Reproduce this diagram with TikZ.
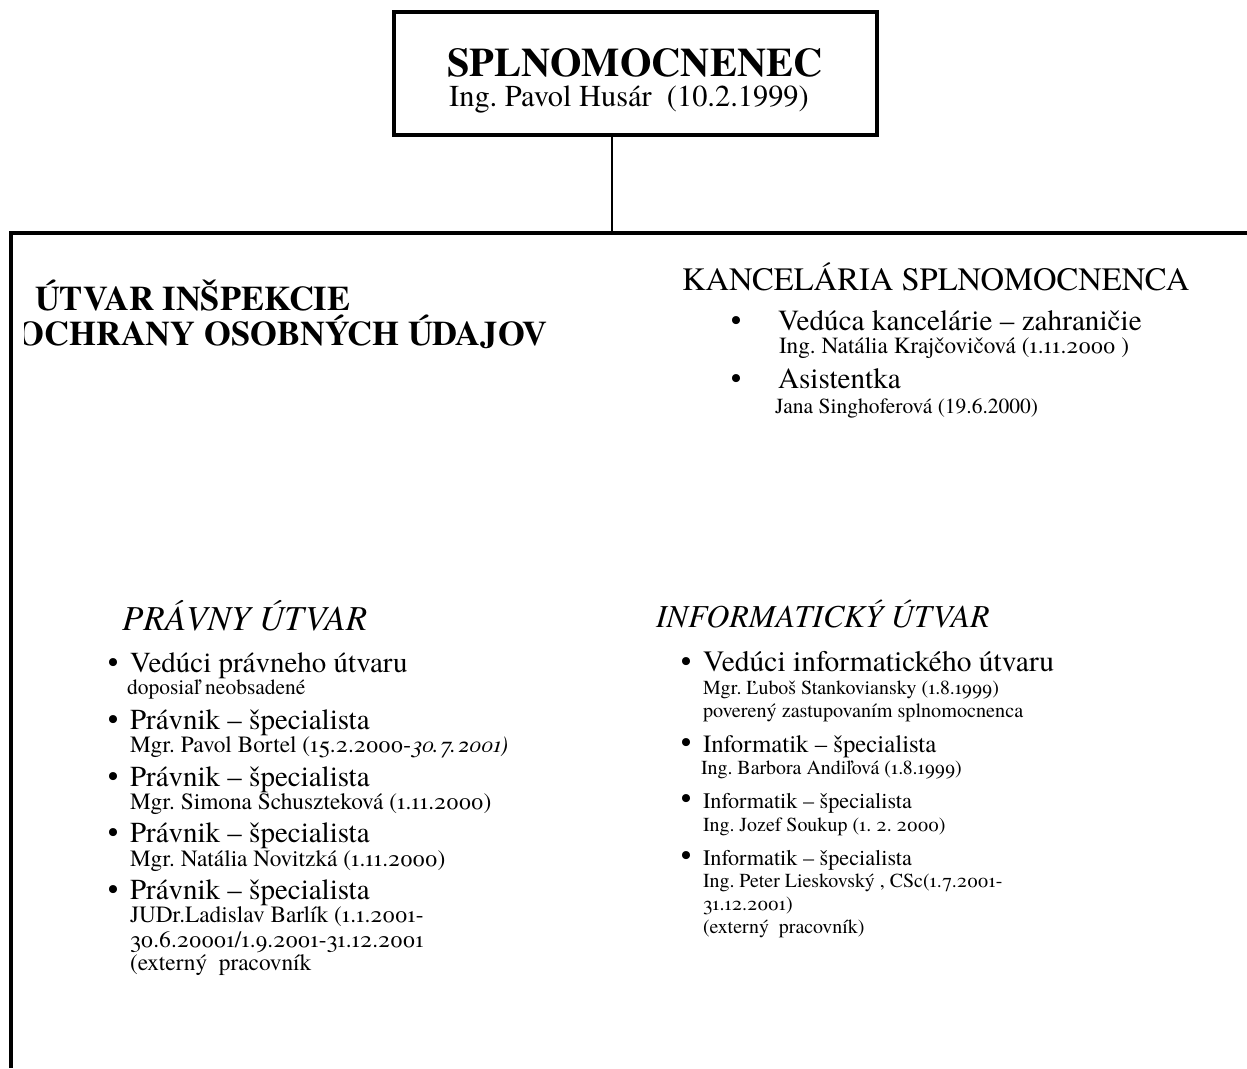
\documentclass[tikz,border=0pt]{standalone}
\usepackage{fontspec}
\setmainfont{texgyretermes}[Extension=.otf, UprightFont=*-regular, BoldFont=*-bold, ItalicFont=*-italic, BoldItalicFont=*-bolditalic]
\newfontfamily\geo{texgyretermes}[Extension=.otf, UprightFont=*-regular, BoldFont=*-bold, ItalicFont=*-italic, BoldItalicFont=*-bolditalic, Numbers=OldStyle]
\newcommand\fsz[1]{\fontsize{#1}{#1}\selectfont}
\frenchspacing
\begin{document}
\begin{tikzpicture}[x=1pt,y=-1pt,
  txt/.style={anchor=base west, inner sep=0pt, outer sep=0pt},
  ctxt/.style={anchor=base, inner sep=0pt, outer sep=0pt},
  frame/.style={line width=4pt},
  box/.style={draw, line width=4pt, inner sep=0pt, minimum width=483pt, minimum height=123pt},
  bul/.style={anchor=base, inner sep=0pt, font=\fsz{30}},
  hL/.style={txt, font=\fsz{29}},
  sL/.style={txt, font=\geo\fsz{23.3}},
  hR/.style={txt, font=\fsz{25}},
  sR/.style={txt, font=\geo\fsz{19.9}}]
\useasboundingbox (0,0) rectangle (1247,1068);

% top box
\node[box] (boss) at (635.5,73.5) {};
\node[ctxt, font=\fsz{40.5}\bfseries] (bossT) at (635,76) {SPLNOMOCNENEC};
\node[ctxt, font=\fsz{30.4}] (bossN) at (629,106) {Ing. Pavol Husár\ \ (10.2.1999)};

% frame
\coordinate (jn) at (612,233);
\coordinate (fl) at (11,233);
\coordinate (fr) at (1247,233);
\coordinate (fb) at (11,1068);
\draw[line width=1.8pt] (jn |- boss.south) -- (jn);
\draw[frame] (fb) -- (fl) -- (fr);

% Útvar inšpekcie
\node[txt, font=\fsz{34.5}\bfseries] (ui1) at (35,310) {ÚTVAR INŠPEKCIE};
\begin{scope}
\clip (24,300) rectangle (700,360);
\node[anchor=base east, inner sep=0pt, font=\fsz{34.5}\bfseries] (ui2) at (548,345) {OCHRANY OSOBNÝCH ÚDAJOV};
\end{scope}

% Kancelária
\node[txt, font=\fsz{32.6}] (kan) at (682,290) {KANCELÁRIA SPLNOMOCNENCA};
\node[bul] (kb1) at (736,330) {•};
\node[txt, font=\fsz{29.2}] (k1) at (778,330) {Vedúca kancelárie – zahraničie};
\node[txt, font=\geo\fsz{23.2}] (k1n) at (779,353) {Ing. Natália Krajčovičová (1.11.2000 )};
\node[bul] (kb2) at (736,388) {•};
\node[txt, font=\fsz{29.2}] (k2) at (778,388) {Asistentka};
\node[txt, font=\fsz{21.5}] (k2n) at (775,413) {Jana Singhoferová (19.6.2000)};

% Právny útvar
\node[txt, font=\fsz{35}\itshape] (pu) at (122,630) {PRÁVNY ÚTVAR};
\node[bul] (pb1) at (113,672) {•};
\node[hL] (p1) at (130,672) {Vedúci právneho útvaru};
\node[sL, font=\geo\fsz{21.5}] (p1n) at (127,694) {doposiaľ neobsadené};
\node[bul] (pb2) at (113,729) {•};
\node[hL] (p2) at (130,729) {Právnik – špecialista};
\node[sL] (p2n) at (130,752) {Mgr. Pavol Bortel (15.2.2000-\textit{30.7.2001)}};
\node[bul] (pb3) at (113,786) {•};
\node[hL] (p3) at (130,786) {Právnik – špecialista};
\node[sL] (p3n) at (130,809) {Mgr. Simona Schuszteková (1.11.2000)};
\node[bul] (pb4) at (113,842) {•};
\node[hL] (p4) at (130,842) {Právnik – špecialista};
\node[sL] (p4n) at (130,866) {Mgr. Natália Novitzká (1.11.2000)};
\node[bul] (pb5) at (113,899) {•};
\node[hL] (p5) at (130,899) {Právnik – špecialista};
\node[sL] (p5n) at (130,922) {JUDr.Ladislav Barlík (1.1.2001-};
\node[sL] (p5m) at (130,947) {30.6.20001/1.9.2001-31.12.2001};
\node[sL] (p5e) at (130,970) {(externý\ \ pracovník};

% Informatický útvar
\node[txt, font=\fsz{32}\itshape] (iu) at (656,627) {INFORMATICKÝ ÚTVAR};
\node[bul] (ib1) at (686,671) {•};
\node[txt, font=\fsz{29.5}] (i1) at (703,671) {Vedúci informatického útvaru};
\node[sR] (i1n) at (703,694) {Mgr. Ľuboš Stankoviansky (1.8.1999)};
\node[sR, font=\geo\fsz{20.2}] (i1m) at (703,717) {poverený zastupovaním splnomocnenca};
\node[bul] (ib2) at (686,752) {•};
\node[hR, font=\fsz{24.8}] (i2) at (703,752) {Informatik – špecialista};
\node[sR] (i2n) at (701,774) {Ing. Barbora Andiľová (1.8.1999)};
\node[bul] (ib3) at (686,808) {•};
\node[hR, font=\fsz{22.2}] (i3) at (703,808) {Informatik – špecialista};
\node[sR] (i3n) at (703,831) {Ing. Jozef Soukup (1. 2. 2000)};
\node[bul] (ib4) at (686,865) {•};
\node[hR, font=\fsz{22.2}] (i4) at (703,865) {Informatik – špecialista};
\node[sR] (i4n) at (703,887) {Ing. Peter Lieskovský , CSc(1.7.2001-};
\node[sR] (i4m) at (703,910) {31.12.2001)};
\node[sR] (i4e) at (703,933) {(externý\ \ pracovník)};
\end{tikzpicture}
\end{document}
